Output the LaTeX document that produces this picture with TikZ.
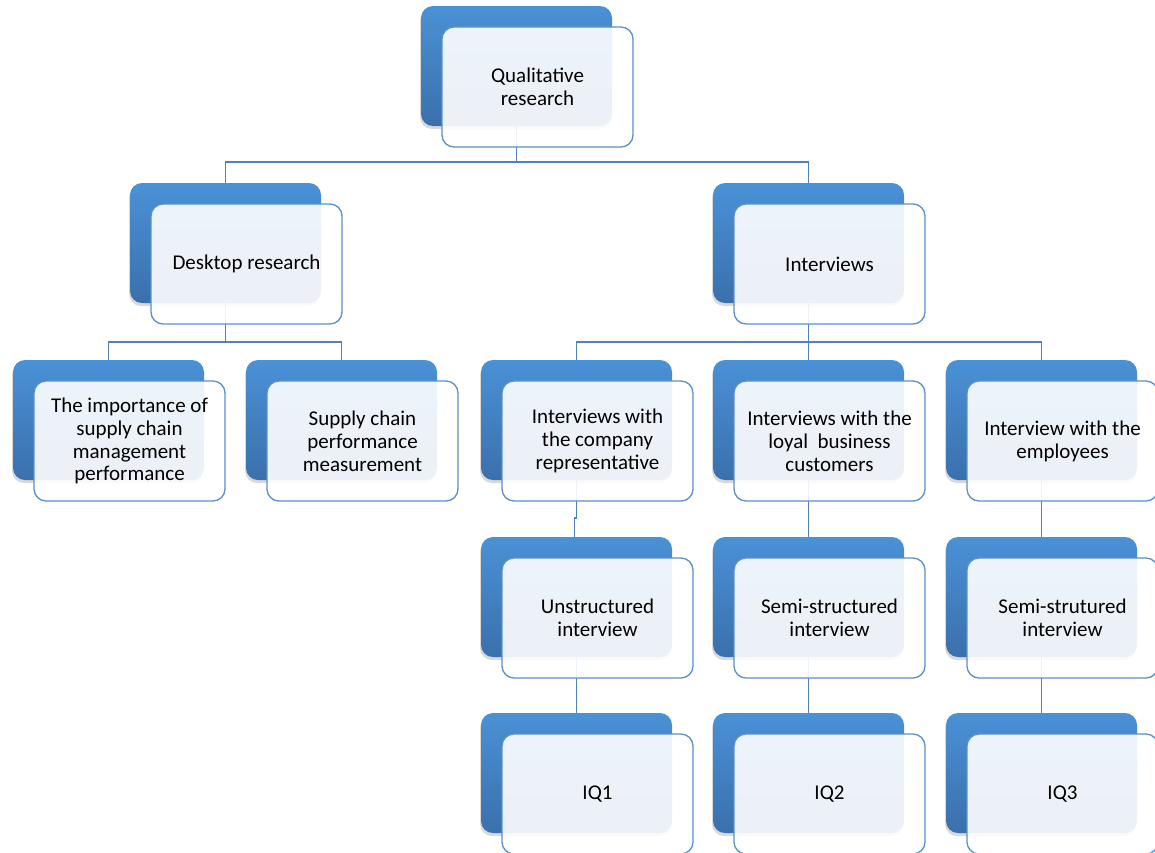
\documentclass[tikz,border=0pt]{standalone}
\usepackage{fontspec}
\setmainfont{Carlito}
\usetikzlibrary{shadows}
\definecolor{bbtop}{HTML}{4A91D6}
\definecolor{bbbot}{HTML}{3A70AC}
\definecolor{edgec}{HTML}{4F81BD}
\definecolor{fborder}{HTML}{5B8FCB}
\tikzset{
  backbox/.style={rounded corners=12pt, minimum width=191pt, minimum height=120pt,
    top color=bbtop, bottom color=bbbot, draw=none, inner sep=0pt, outer sep=0pt,
    drop shadow={shadow xshift=-1pt, shadow yshift=-3pt, opacity=0.3}},
  frontbox/.style={rounded corners=12pt, minimum width=191pt, minimum height=120pt,
    draw=fborder, line width=1.3pt, fill=white, fill opacity=0.9, text opacity=1,
    align=center, font=\fontsize{21}{22.8}\selectfont, inner sep=2pt, outer sep=0pt},
  link/.style={draw=edgec, line width=1.5pt}
}
\newcommand\backat[3]{\node[backbox] (#1) at (#2,#3) {};}
\newcommand\frontof[3]{\node[frontbox] (#1f) at ([shift={(21,21)}]#1.center) {#3};}
\begin{document}
\begin{tikzpicture}[x=1pt,y=-1pt]
\useasboundingbox (0,0) rectangle (1155,852);
% back boxes
\backat{Q}{516.5}{66}
\backat{D}{225.5}{243}
\backat{I}{808.5}{243}
\backat{A}{108.5}{420}
\backat{B}{341.5}{420}
\backat{C}{576.5}{420}
\backat{L}{808.5}{420}
\backat{E}{1041.5}{420}
\backat{U}{576.5}{597}
\backat{S}{808.5}{597}
\backat{T}{1041.5}{597}
\backat{Ka}{576.5}{773}
\backat{Kb}{808.5}{773}
\backat{Kc}{1041.5}{773}
% connectors
\draw[link] (Q.south) -- ++(0,36) -| (D.north);
\draw[link] (Q.south) -- ++(0,36) -| (I.north);
\draw[link] (D.south) -- ++(0,39) -| (A.north);
\draw[link] (D.south) -- ++(0,39) -| (B.north);
\draw[link] (I.south) -- ++(0,39) -| (C.north);
\draw[link] (I.south) -- ++(0,39) -| (L.north);
\draw[link] (I.south) -- ++(0,39) -| (E.north);
\draw[link] (C.south) -- ++(0,38) -- ++(-2,0) -- ++(0,19.5);
\draw[link] (L.south) -- (S.north);
\draw[link] (E.south) -- (T.north);
\draw[link] (U.south) -- (Ka.north);
\draw[link] (S.south) -- (Kb.north);
\draw[link] (T.south) -- (Kc.north);
% front boxes
\frontof{Q}{}{Qualitative\\research}
\frontof{D}{}{Desktop research}
\frontof{I}{}{Interviews}
\frontof{A}{}{The importance of\\supply chain\\management\\performance}
\frontof{B}{}{Supply chain\\performance\\measurement}
\frontof{C}{}{Interviews with\\the company\\representative}
\frontof{L}{}{Interviews with the\\loyal\ \ business\\customers}
\frontof{E}{}{Interview with the\\employees}
\frontof{U}{}{Unstructured\\interview}
\frontof{S}{}{Semi-structured\\interview}
\frontof{T}{}{Semi-strutured\\interview}
\frontof{Ka}{}{IQ1}
\frontof{Kb}{}{IQ2}
\frontof{Kc}{}{IQ3}
\end{tikzpicture}
\end{document}
